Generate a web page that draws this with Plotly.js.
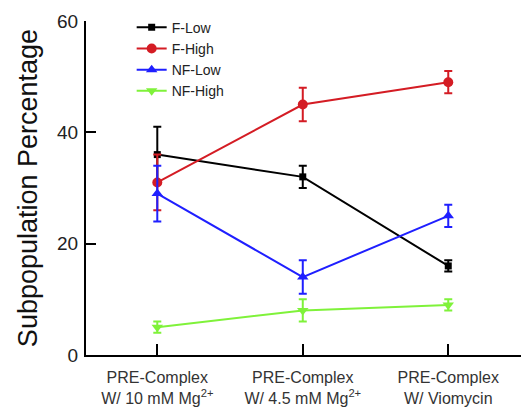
<!DOCTYPE html>
<html><head><meta charset="utf-8">
<script src="https://cdn.plot.ly/plotly-3.0.1.min.js"></script>
<style>body{margin:0;background:#fff}#chart{width:532px;height:411px}</style>
</head><body><div id="chart"></div>
<script>
const categories = ["PRE-Complex<br>W/ 10 mM Mg<sup>2+</sup>", "PRE-Complex<br>W/ 4.5 mM Mg<sup>2+</sup>", "PRE-Complex<br>W/ Viomycin"];
const seriesNames = ["F-Low", "F-High", "NF-Low", "NF-High"];
const fLow = [36, 32, 16];
const fLowErr = [5, 2, 1];
const fHigh = [31, 45, 49];
const fHighErr = [5, 3, 2];
const nfLow = [29, 14, 25];
const nfLowErr = [5, 3, 2];
const nfHigh = [5, 8, 9];
const nfHighErr = [1, 2, 1];
const yTicks = [0, 20, 40, 60];

const colors = ["#000000", "#d41c24", "#1f1fff", "#7ff23a"];
const symbols = ["square", "circle", "triangle-up", "triangle-down"];
const vals = [fLow, fHigh, nfLow, nfHigh];
const errs = [fLowErr, fHighErr, nfLowErr, nfHighErr];
const xIdx = categories.map((_, i) => i);

const traces = seriesNames.map((n, k) => ({
  type: "scatter", mode: "lines+markers", name: n,
  x: xIdx, y: vals[k],
  line: {color: colors[k], width: 2},
  marker: {color: colors[k], symbol: symbols[k], size: k === 0 ? 7 : 10},
  error_y: {type: "data", array: errs[k], visible: true, color: colors[k], thickness: 2, width: 4}
}));

const layout = {
  width: 532, height: 411,
  margin: {l: 86, r: 11, t: 21, b: 56, autoexpand: false},
  paper_bgcolor: "#fff", plot_bgcolor: "#fff",
  font: {family: "Liberation Sans, Arial, sans-serif", color: "#222"},
  showlegend: true,
  legend: {x: 0.105, y: 1.028, xanchor: "left", yanchor: "top", bgcolor: "rgba(0,0,0,0)",
           font: {size: 14, color: "#222"}, tracegroupgap: 0, itemwidth: 30},
  xaxis: {
    range: [-0.49, 2.5], tickvals: xIdx, ticktext: categories,
    showline: true, linecolor: "#000", linewidth: 2, ticks: "inside", ticklen: 11, tickwidth: 2, tickcolor: "#000",
    showgrid: false, zeroline: false, tickfont: {size: 16, color: "#333"}, ticklabelstandoff: 7
  },
  yaxis: {
    range: [0, 60], tickvals: yTicks,
    showline: true, linecolor: "#000", linewidth: 2, ticks: "inside", ticklen: 10, tickwidth: 2, tickcolor: "#000",
    showgrid: false, zeroline: false, tickfont: {size: 19, color: "#222"}, ticklabelstandoff: 2,
    title: {text: "Subpopulation Percentage", font: {size: 27, color: "#111"}, standoff: 12}
  }
};
Plotly.newPlot("chart", traces, layout, {displayModeBar: false, staticPlot: true});
</script></body></html>
